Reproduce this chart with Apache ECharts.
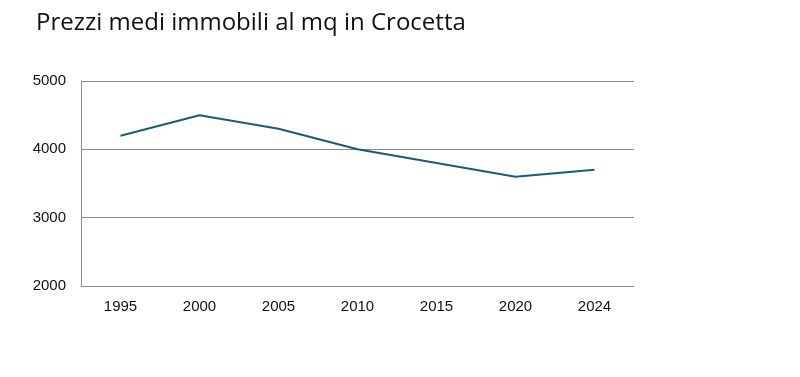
<!DOCTYPE html>
<html>
<head>
<meta charset="utf-8">
<script src="https://cdn.jsdelivr.net/npm/echarts@6/dist/echarts.min.js"></script>
<style>
    html, body { margin: 0; padding: 0; background: #fff; }
    #chart { width: 800px; height: 377px; }
</style>
</head>
<body>
<div id="chart"></div>
<script>
const years = ['1995', '2000', '2005', '2010', '2015', '2020', '2024'];
const prezzi = [4200, 4500, 4300, 4000, 3800, 3600, 3700];
const yTicks = [2000, 3000, 4000, 5000];

const chart = echarts.init(document.getElementById('chart'));

const option = {
    animation: false,
    title: {
        text: 'Prezzi medi immobili al mq in Crocetta',
        left: 31,
        top: 6,
        textStyle: {
            fontFamily: 'Open Sans',
            fontWeight: 'normal',
            fontSize: 24,
            color: '#111'
        }
    },
    grid: {
        left: 81,
        right: 166,
        top: 81,
        bottom: 91
    },
    xAxis: {
        type: 'category',
        data: years,
        boundaryGap: true,
        axisLine: { show: true, lineStyle: { color: '#8c8c8c', width: 1 } },
        axisTick: { show: false },
        axisLabel: {
            color: '#111',
            fontFamily: 'Liberation Sans',
            fontSize: 15,
            margin: 13
        }
    },
    yAxis: {
        type: 'value',
        min: yTicks[0],
        max: yTicks[yTicks.length - 1],
        interval: 1000,
        axisLine: { show: true, lineStyle: { color: '#8c8c8c', width: 1 } },
        axisTick: { show: false },
        splitLine: { show: true, lineStyle: { color: '#8c8c8c', width: 1 } },
        axisLabel: {
            color: '#111',
            fontFamily: 'Liberation Sans',
            fontSize: 15,
            margin: 15,
            formatter: function (v) { return String(v); }
        }
    },
    series: [
        {
            type: 'line',
            data: prezzi,
            symbol: 'none',
            lineStyle: { color: '#1d5a78', width: 2 }
        }
    ]
};

chart.setOption(option);
</script>
</body>
</html>
